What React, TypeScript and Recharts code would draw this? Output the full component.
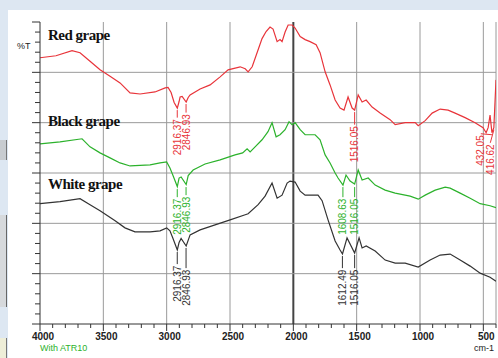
import { LineChart, Line, XAxis, YAxis, ReferenceLine, ReferenceDot } from 'recharts'

// wavenumber (cm-1) / transmittance offset
const redWn = [4000, 3874, 3747, 3684, 3605, 3526, 3447, 3368, 3289, 3210, 3092, 3012, 2989, 2965, 2941, 2916, 2902, 2894, 2878, 2846, 2830, 2815, 2736, 2657, 2578, 2515, 2420, 2380, 2357, 2325, 2278, 2247, 2215, 2184, 2160, 2128, 2105, 2089, 2065, 2041, 2010, 1986, 1946, 1907, 1868, 1820, 1789, 1749, 1710, 1670, 1631, 1600, 1568, 1536, 1516, 1488, 1457, 1425, 1378, 1315, 1236, 1196, 1117, 1038, 1014, 959, 904, 841, 778, 723, 644, 565, 502, 478, 462, 447, 432, 417, 400]
const redT = [5.29, 5.33, 5.43, 5.39, 5.22, 5.05, 4.92, 4.79, 4.59, 4.57, 4.61, 4.69, 4.7, 4.6, 4.4, 4.29, 4.42, 4.51, 4.52, 4.41, 4.5, 4.55, 4.67, 4.75, 4.91, 5.05, 5.11, 5.07, 5.01, 5.11, 5.45, 5.67, 5.81, 5.9, 5.86, 5.61, 5.65, 5.61, 5.8, 5.94, 5.94, 5.88, 5.71, 5.65, 5.61, 5.55, 5.39, 5.01, 4.75, 4.45, 4.29, 4.25, 4.51, 4.29, 4.25, 4.55, 4.41, 4.45, 4.31, 4.19, 4.06, 3.96, 4.0, 4.0, 3.94, 4.04, 4.19, 4.27, 4.25, 4.19, 4.1, 4.0, 3.9, 3.8, 3.9, 4.15, 3.8, 3.9, 4.85]

const greenWn = [4000, 3842, 3668, 3605, 3526, 3447, 3368, 3289, 3131, 3052, 3000, 2974, 2950, 2916, 2902, 2886, 2846, 2830, 2791, 2697, 2578, 2460, 2400, 2365, 2341, 2302, 2247, 2200, 2168, 2136, 2105, 2065, 2034, 2010, 1986, 1946, 1907, 1828, 1789, 1749, 1710, 1670, 1647, 1608, 1584, 1552, 1516, 1488, 1457, 1409, 1354, 1275, 1196, 1078, 1014, 959, 880, 801, 762, 683, 604, 525, 447, 400]
const greenT = [3.58, 3.62, 3.68, 3.52, 3.4, 3.3, 3.2, 3.14, 3.16, 3.2, 3.22, 3.1, 2.95, 2.73, 2.9, 2.92, 2.77, 2.95, 3.06, 3.18, 3.26, 3.36, 3.4, 3.48, 3.42, 3.52, 3.66, 3.82, 4.0, 3.72, 3.76, 3.86, 4.02, 3.96, 4.0, 3.86, 3.76, 3.76, 3.66, 3.36, 3.2, 3.0, 2.9, 2.76, 2.96, 2.84, 2.78, 3.06, 2.86, 2.9, 2.76, 2.66, 2.6, 2.54, 2.48, 2.56, 2.66, 2.72, 2.7, 2.6, 2.5, 2.39, 2.35, 2.31]

const blackWn = [4000, 3842, 3684, 3605, 3526, 3407, 3329, 3250, 3131, 3052, 3000, 2974, 2950, 2916, 2902, 2886, 2846, 2815, 2736, 2618, 2499, 2380, 2357, 2278, 2223, 2168, 2128, 2089, 2049, 2026, 1986, 1946, 1907, 1805, 1773, 1726, 1670, 1631, 1612, 1576, 1516, 1481, 1457, 1425, 1354, 1275, 1196, 1117, 1014, 920, 841, 762, 683, 604, 525, 447, 400]
const blackT = [2.39, 2.43, 2.49, 2.37, 2.25, 2.05, 1.91, 1.83, 1.83, 1.85, 1.91, 1.85, 1.7, 1.47, 1.62, 1.7, 1.55, 1.77, 1.87, 1.97, 2.07, 2.17, 2.19, 2.37, 2.54, 2.8, 2.5, 2.56, 2.8, 2.84, 2.82, 2.64, 2.56, 2.56, 2.45, 2.07, 1.65, 1.47, 1.39, 1.71, 1.41, 1.71, 1.51, 1.55, 1.45, 1.27, 1.21, 1.21, 1.13, 1.27, 1.37, 1.39, 1.27, 1.15, 1.01, 0.93, 0.85]

const seriesNames = ['Red grape', 'Black grape', 'White grape']
const xLabels = [4000, 3500, 3000, 2500, 2000, 1500, 1000, 500]
const xGrid = [3500, 3000, 2500, 1500, 1000, 500]
const yGrid = [1, 2, 3, 4, 5]

// peak labels: wn of the band, curve value at the band, label x, label top value
const peaks = [
  { wn: 2916.37, dip: 4.29, at: 2916.37, top: 4.1, text: '2916.37', s: 0 },
  { wn: 2846.93, dip: 4.41, at: 2846.93, top: 4.2, text: '2846.93', s: 0 },
  { wn: 1516.05, dip: 4.25, at: 1516.05, top: 3.96, text: '1516.05', s: 0 },
  { wn: 432.05, dip: 3.8, at: 520, top: 3.78, text: '432.05', s: 0 },
  { wn: 416.62, dip: 3.9, at: 445, top: 3.6, text: '416.62', s: 0 },
  { wn: 2916.37, dip: 2.72, at: 2916.37, top: 2.52, text: '2916.37', s: 1 },
  { wn: 2846.93, dip: 2.76, at: 2846.93, top: 2.56, text: '2846.93', s: 1 },
  { wn: 1608.63, dip: 2.76, at: 1608.63, top: 2.52, text: '1608.63', s: 1 },
  { wn: 1516.05, dip: 2.76, at: 1516.05, top: 2.52, text: '1516.05', s: 1 },
  { wn: 2916.37, dip: 1.47, at: 2916.37, top: 1.19, text: '2916.37', s: 2 },
  { wn: 2846.93, dip: 1.55, at: 2846.93, top: 1.11, text: '2846.93', s: 2 },
  { wn: 1612.49, dip: 1.39, at: 1612.49, top: 1.11, text: '1612.49', s: 2 },
  { wn: 1516.05, dip: 1.41, at: 1516.05, top: 1.11, text: '1516.05', s: 2 },
]

const COLORS = ['#e8343a', '#2cb22c', '#333333']
const SANS = '"Liberation Sans", Arial, sans-serif'
const SERIF = '"Liberation Serif", "Times New Roman", serif'

const toPoints = (wn: number[], t: number[]) => wn.map((w, i) => ({ wn: w, t: t[i] }))
const series = [toPoints(redWn, redT), toPoints(greenWn, greenT), toPoints(blackWn, blackT)]

const range = (a: number, b: number, step: number) => {
  const out: number[] = []
  for (let v = a; v <= b + 1e-9; v += step) out.push(Math.round(v * 10) / 10)
  return out
}
const xTicks = range(400, 4000, 100)
const yTicks = range(0, 6, 0.2)

function YTick(props: any) {
  const { x, y, payload } = props
  const major = Math.abs(payload.value - Math.round(payload.value)) < 1e-6
  return <line x1={x - (major ? 8 : 5)} x2={x} y1={y} y2={y} stroke="#333" strokeWidth={1} />
}

function XTick(props: any) {
  const { x, y, payload } = props
  const major = payload.value % 500 === 0
  return (
    <g>
      <line x1={x} x2={x} y1={y} y2={y + (major ? 7 : 4)} stroke="#333" strokeWidth={1} />
      {major && (
        <text x={x + 3} y={y + 16} textAnchor="middle" fontSize={10} fontFamily={SANS} fill="#222" fontWeight={600}>
          {payload.value}
        </text>
      )}
    </g>
  )
}

function PeakText(color: string, text: string) {
  return (props: any) => {
    const { cx, cy } = props
    return (
      <text
        x={cx}
        y={cy}
        transform={`rotate(-90 ${cx} ${cy})`}
        textAnchor="end"
        dominantBaseline="central"
        fontSize={10}
        fontFamily={SANS}
        fill={color}
      >
        {text}
      </text>
    )
  }
}

export default function App() {
  return (
    <div style={{ position: 'absolute', left: 0, top: 0, width: 498, height: 358, background: '#dde7f2', overflow: 'hidden' }}>
      <div style={{ position: 'absolute', left: 8, top: 10, width: 490, height: 348, background: '#fff' }} />
      <div style={{ position: 'absolute', left: 0, top: 140, width: 6, height: 20, background: '#c8ccd0', borderRight: '1px solid #777' }} />
      <div style={{ position: 'absolute', left: 0, top: 215, width: 6, height: 92, background: '#d6d9dc', borderRight: '1px solid #666' }} />
      <div style={{ position: 'absolute', left: 0, top: 338, width: 6, height: 20, background: '#eeeed8', borderRight: '1px solid #777' }} />
      <div style={{ position: 'absolute', left: 0, top: 0 }}>
        <LineChart width={498} height={358} margin={{ top: 22, right: 2, left: 0, bottom: 0 }}>
          <XAxis
            dataKey="wn"
            type="number"
            domain={[400, 4000]}
            reversed
            allowDataOverflow
            ticks={xTicks}
            interval={0}
            tick={<XTick />}
            tickLine={false}
            tickSize={0}
            tickMargin={0}
            height={34}
            stroke="#333"
          />
          <YAxis
            type="number"
            domain={[0, 6]}
            ticks={yTicks}
            interval={0}
            tick={<YTick />}
            tickLine={false}
            tickSize={0}
            tickMargin={0}
            width={40}
            stroke="#333"
          />
          {xGrid.map((v) => (
            <ReferenceLine key={'x' + v} x={v} stroke="#9a9a9a" strokeWidth={1} />
          ))}
          <ReferenceLine x={2000} stroke="#444" strokeWidth={2} />
          <ReferenceLine x={400} stroke="#9a9a9a" strokeWidth={1} />
          {yGrid.map((v) => (
            <ReferenceLine key={'y' + v} y={v} stroke="#9a9a9a" strokeWidth={1} />
          ))}
          {series.map((d, i) => (
            <Line
              key={seriesNames[i]}
              data={d}
              dataKey="t"
              name={seriesNames[i]}
              type="linear"
              stroke={COLORS[i]}
              strokeWidth={1.2}
              dot={false}
              isAnimationActive={false}
            />
          ))}
          {peaks.map((p, i) => (
            <ReferenceLine
              key={'l' + i}
              segment={[
                { x: p.wn, y: p.dip - 0.04 },
                { x: p.at, y: p.top },
              ]}
              stroke={COLORS[p.s]}
              strokeWidth={1}
            />
          ))}
          {peaks.map((p, i) => (
            <ReferenceDot key={'p' + i} x={p.at} y={p.top - 0.03} r={0} shape={PeakText(COLORS[p.s], p.text)} />
          ))}
        </LineChart>
      </div>
      <div style={{ position: 'absolute', left: 17, top: 41, fontFamily: SANS, fontSize: 9, color: '#222' }}>%T</div>
      {seriesNames.map((n, i) => (
        <div
          key={n}
          style={{
            position: 'absolute',
            left: 48,
            top: [27, 113, 176][i],
            fontFamily: SERIF,
            fontWeight: 700,
            fontSize: 15,
            letterSpacing: -0.5,
            color: '#111',
          }}
        >
          {n}
        </div>
      ))}
      <div style={{ position: 'absolute', left: 40, top: 343, fontFamily: SANS, fontSize: 9, color: '#2cb22c' }}>With ATR10</div>
      <div style={{ position: 'absolute', left: 474, top: 343, fontFamily: SANS, fontSize: 9, color: '#222' }}>cm-1</div>
    </div>
  )
}
